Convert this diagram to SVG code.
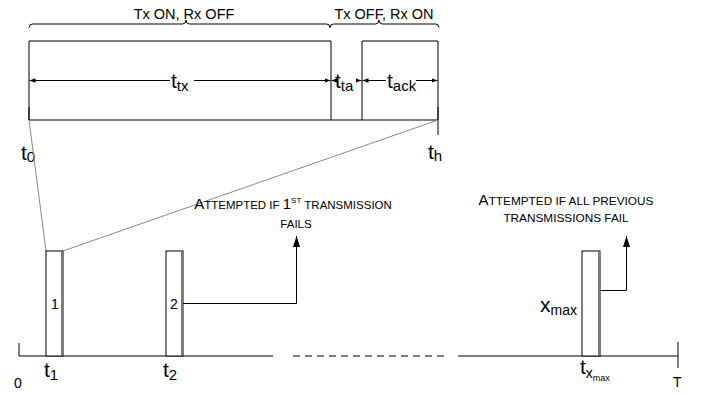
<svg xmlns="http://www.w3.org/2000/svg" width="702" height="395" viewBox="0 0 702 395">
<defs>
<marker id="ah" viewBox="0 0 6 6" refX="6" refY="3" markerWidth="6" markerHeight="6" orient="auto-start-reverse" markerUnits="userSpaceOnUse">
<path d="M0,0.8 L6,3 L0,5.2 Z" fill="#000"/>
</marker>
<marker id="big" viewBox="0 0 8 12" refX="4" refY="0" markerWidth="8" markerHeight="12" orient="0" markerUnits="userSpaceOnUse">
<path d="M4,0 L7.5,11 L0.5,11 Z" fill="#000"/>
</marker>
</defs>
<style>
.l{stroke:#000;stroke-width:1;fill:none}
.g{stroke:#888;stroke-width:1;fill:none}
.t{font-family:"Liberation Sans",Arial,sans-serif;fill:#000}
.bar{fill:#fff;stroke:#000;stroke-width:1}
</style>
<rect width="702" height="395" fill="#fff"/>

<g id="top-labels">
<text class="t" x="184" y="19" font-size="14.5" text-anchor="middle">Tx ON, Rx OFF</text>
<text class="t" x="384" y="19" font-size="14.5" text-anchor="middle">Tx OFF, Rx ON</text>
<path class="l" stroke="#333" d="M29,27.5 Q29,24 32.5,24 L182.5,24 Q186,24 186,20 Q186,24 189.5,24 L326.5,24 Q330,24 330,27.5"/>
<path class="l" stroke="#333" d="M330,27.5 Q330,24 333.5,24 L375.5,24 Q379,24 379,20 Q379,24 382.5,24 L435.5,24 Q439,24 439,27.5"/>
</g>

<g id="frame">
<path class="l" d="M29,120 V41 H331 V120"/>
<path class="l" d="M29,120 H438"/>
<path class="l" d="M362,120 V41 H438 V135"/>
<path class="l" stroke-width="2" d="M29,107 V120"/>
<path class="l" stroke-width="2" d="M438,107 V120"/>
</g>

<g id="durations">
<line class="l" x1="170" y1="80.5" x2="29.5" y2="80.5" marker-end="url(#ah)"/>
<line class="l" x1="194" y1="80.5" x2="330.5" y2="80.5" marker-end="url(#ah)"/>
<text class="t" x="171" y="88" font-size="21">t<tspan font-size="15" dy="3">tx</tspan></text>
<line class="l" x1="336" y1="80.5" x2="331.5" y2="80.5" marker-end="url(#ah)"/>
<line class="l" x1="357" y1="80.5" x2="361.5" y2="80.5" marker-end="url(#ah)"/>
<text class="t" x="335" y="88" font-size="21">t<tspan font-size="15" dy="3">ta</tspan></text>
<line class="l" x1="386" y1="80.5" x2="362.5" y2="80.5" marker-end="url(#ah)"/>
<line class="l" x1="416" y1="80.5" x2="437.5" y2="80.5" marker-end="url(#ah)"/>
<text class="t" x="387" y="88" font-size="21">t<tspan font-size="15" dy="3">ack</tspan></text>
</g>

<g id="top-ticks">
<text class="t" x="21" y="160" font-size="21">t<tspan font-size="15" dy="2">0</tspan></text>
<text class="t" x="428" y="159" font-size="21">t<tspan font-size="15" dy="2">h</tspan></text>
</g>

<g id="zoom-lines">
<line class="g" x1="29" y1="120" x2="46" y2="251"/>
<line class="g" x1="438" y1="120" x2="63" y2="251"/>
</g>

<g id="axis">
<line class="l" x1="19" y1="356" x2="273" y2="356"/>
<line class="l" x1="19" y1="343" x2="19" y2="356"/>
<line class="l" x1="293" y1="356" x2="446" y2="356" stroke-dasharray="7,5"/>
<line class="l" x1="458" y1="356" x2="678" y2="356"/>
<line class="l" x1="678" y1="342" x2="678" y2="368"/>
<text class="t" x="14" y="388" font-size="14">0</text>
<text class="t" x="673" y="387" font-size="14">T</text>
</g>

<g id="bar1">
<rect class="bar" x="46" y="251" width="17" height="105"/>
<line x1="61.5" y1="251" x2="61.5" y2="356" stroke="#777" stroke-width="1"/>
<text class="t" x="51" y="309" font-size="14">1</text>
<text class="t" x="44" y="377" font-size="21">t<tspan font-size="15" dy="3">1</tspan></text>
</g>

<g id="bar2">
<rect class="bar" x="166" y="251" width="17" height="105"/>
<line x1="181.5" y1="251" x2="181.5" y2="356" stroke="#777" stroke-width="1"/>
<text class="t" x="170" y="309" font-size="14">2</text>
<text class="t" x="163" y="377" font-size="21">t<tspan font-size="15" dy="3">2</tspan></text>
</g>

<g id="barxmax">
<rect class="bar" x="582" y="251" width="18" height="105"/>
<line x1="598.5" y1="251" x2="598.5" y2="356" stroke="#777" stroke-width="1"/>
<text class="t" x="540" y="312" font-size="21">x<tspan font-size="14" dy="3">max</tspan></text>
<text class="t" x="580" y="374" font-size="21">t<tspan font-size="14" dy="4">x</tspan><tspan font-size="9" dy="3">max</tspan></text>
</g>

<g id="connectors">
<path class="l" d="M183,303.5 H296.5 V236" marker-end="url(#big)"/>
<path class="l" d="M600,290.5 H626.5 V236" marker-end="url(#big)"/>
</g>

<g id="note1">
<text class="t" x="293" y="209" font-size="11.5" text-anchor="middle"><tspan font-size="15">A</tspan>TTEMPTED IF <tspan font-size="15">1</tspan><tspan font-size="8" dy="-6">ST</tspan><tspan dy="6"> TRANSMISSION</tspan></text>
<text class="t" x="296" y="228" font-size="11.5" text-anchor="middle">FAILS</text>
</g>

<g id="note2">
<text class="t" x="566" y="205" font-size="11.8" text-anchor="middle"><tspan font-size="15">A</tspan>TTEMPTED IF ALL PREVIOUS</text>
<text class="t" x="566" y="222" font-size="11.8" text-anchor="middle">TRANSMISSIONS FAIL</text>
</g>
</svg>
